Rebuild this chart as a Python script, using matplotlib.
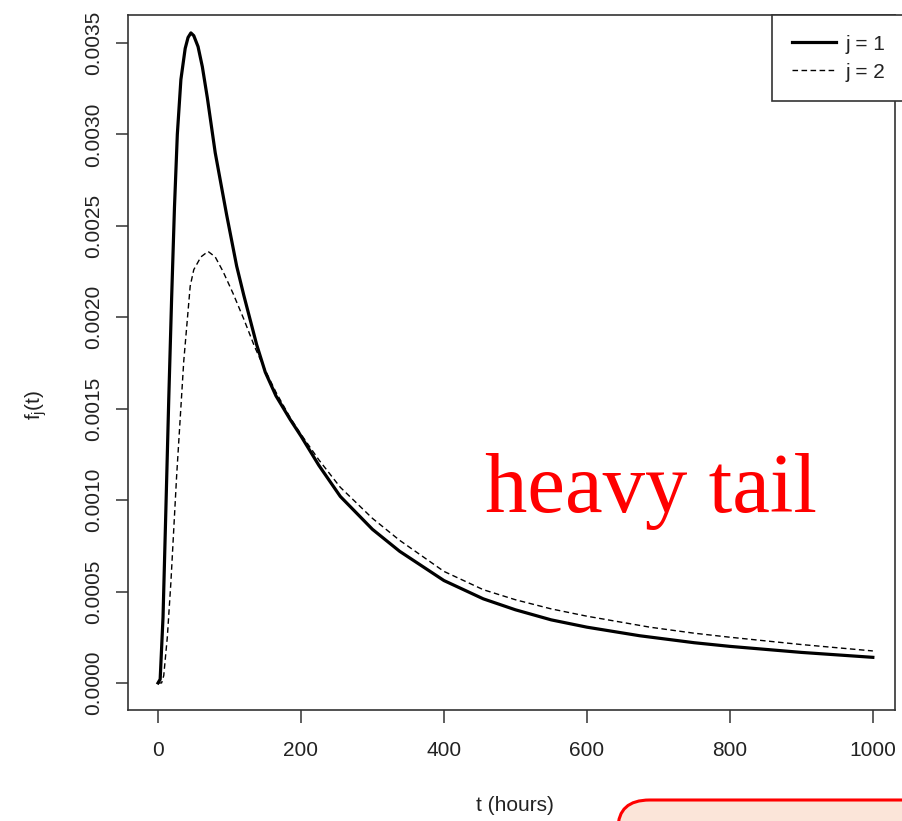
import matplotlib
matplotlib.use("Agg")
import matplotlib.pyplot as plt
from matplotlib.patches import FancyBboxPatch
from matplotlib.lines import Line2D

t1 = [0, 3, 7, 11, 15, 19, 23, 27, 32, 38, 42, 46, 50, 56, 62, 69, 80, 96,
      110, 120, 138, 150, 165, 185, 200, 225, 255, 300, 338, 400, 455, 500,
      550, 600, 674, 750, 800, 900, 1000]
f1 = [0, 0.00002, 0.00036, 0.00095, 0.00155, 0.00210, 0.00260, 0.00300,
      0.00330, 0.00347, 0.00353, 0.003555, 0.00354, 0.00348, 0.00337,
      0.00320, 0.00290, 0.00256, 0.00228, 0.00212, 0.00185, 0.00170, 0.00157,
      0.00144, 0.00135, 0.00119, 0.00102, 0.00084, 0.00072, 0.00056, 0.00046,
      0.00040, 0.000345, 0.000305, 0.000258, 0.00022, 0.00020, 0.000167,
      0.00014]

t2 = [0, 5, 8, 13, 18, 26, 36, 45, 50, 60, 70, 80, 91, 105, 120, 135, 150, 165,
      185, 200, 225, 255, 300, 338, 400, 455, 500, 550, 600, 688, 750, 800,
      900, 1000]
f2 = [0, 0.0, 0.00004, 0.00025, 0.00055, 0.00113, 0.00176, 0.00217, 0.00226,
      0.00233, 0.00236, 0.00233, 0.00225, 0.00213, 0.00199, 0.00184, 0.00171,
      0.00159, 0.00145, 0.00136, 0.00122, 0.00107, 0.00090, 0.00078, 0.00061,
      0.00051, 0.000455, 0.000405, 0.000365, 0.000305, 0.000272, 0.00025,
      0.00021, 0.000175]

xticks = [0, 200, 400, 600, 800, 1000]
yticks = [0.0, 0.0005, 0.0010, 0.0015, 0.0020, 0.0025, 0.0030, 0.0035]
ylabels = ["0.0000", "0.0005", "0.0010", "0.0015", "0.0020", "0.0025",
           "0.0030", "0.0035"]

plt.rcParams['font.family'] = ['Liberation Sans', 'DejaVu Sans']

fig = plt.figure(figsize=(9.03, 8.21), dpi=100)
ax = fig.add_axes([128 / 903, 1 - 710 / 821, 767 / 903, 695 / 821])

ax.plot(t1, f1, color="black", lw=2.3, solid_joinstyle="round")
ax.plot(t2, f2, color="black", lw=1.0, dashes=(4, 2.5))

ax.set_xlim(-42, 1031)
ax.set_ylim(-0.000148, 0.003653)

ax.set_xticks(xticks)
ax.set_xticklabels([str(v) for v in xticks])
ax.set_yticks(yticks)
ax.set_yticklabels(ylabels, rotation=90, va="center")

ax.tick_params(direction="out", length=9, width=1.1, color="#333333",
               labelsize=15, labelcolor="#222222")
ax.tick_params(axis="x", pad=13)
ax.tick_params(axis="y", pad=9)
for s in ax.spines.values():
    s.set_color("#333333")
    s.set_linewidth(1.2)

fig.text(515 / 903, 1 - 805 / 821, "t (hours)", ha="center", va="center",
         fontsize=15, color="#222222")
fig.text(36 / 903, 1 - 405 / 821, r"$\mathregular{f_j(t)}$", ha="center",
         va="center", rotation=90, fontsize=15, color="#222222")

# legend
handles = [Line2D([], [], color="black", lw=2.3),
           Line2D([], [], color="black", lw=1.0, dashes=(4, 2.5))]
leg = fig.legend(handles, ["j = 1", "j = 2"], loc="upper left",
                 bbox_to_anchor=(772 / 903, 1 - 15 / 821), fontsize=15,
                 handlelength=2.1, handletextpad=0.5, borderpad=0.95,
                 labelspacing=0.42, fancybox=False, framealpha=1,
                 borderaxespad=0)
leg.get_frame().set_edgecolor("#333333")
leg.get_frame().set_linewidth(1.2)
for txt in leg.get_texts():
    txt.set_color("#222222")

fig.text(485 / 903, 1 - 512 / 821, "heavy tail", color="red", fontsize=61,
         family="Liberation Serif", ha="left", va="baseline")

# callout box at the bottom right
box = FancyBboxPatch((618 / 903, 1 - 860 / 821), 400 / 903, 60 / 821,
                     boxstyle="round,pad=0,rounding_size=0.035",
                     transform=fig.transFigure, facecolor="#fbe5d9",
                     edgecolor="red", lw=2.2, clip_on=False)
fig.patches.append(box)

fig.savefig("out.png", dpi=100)
